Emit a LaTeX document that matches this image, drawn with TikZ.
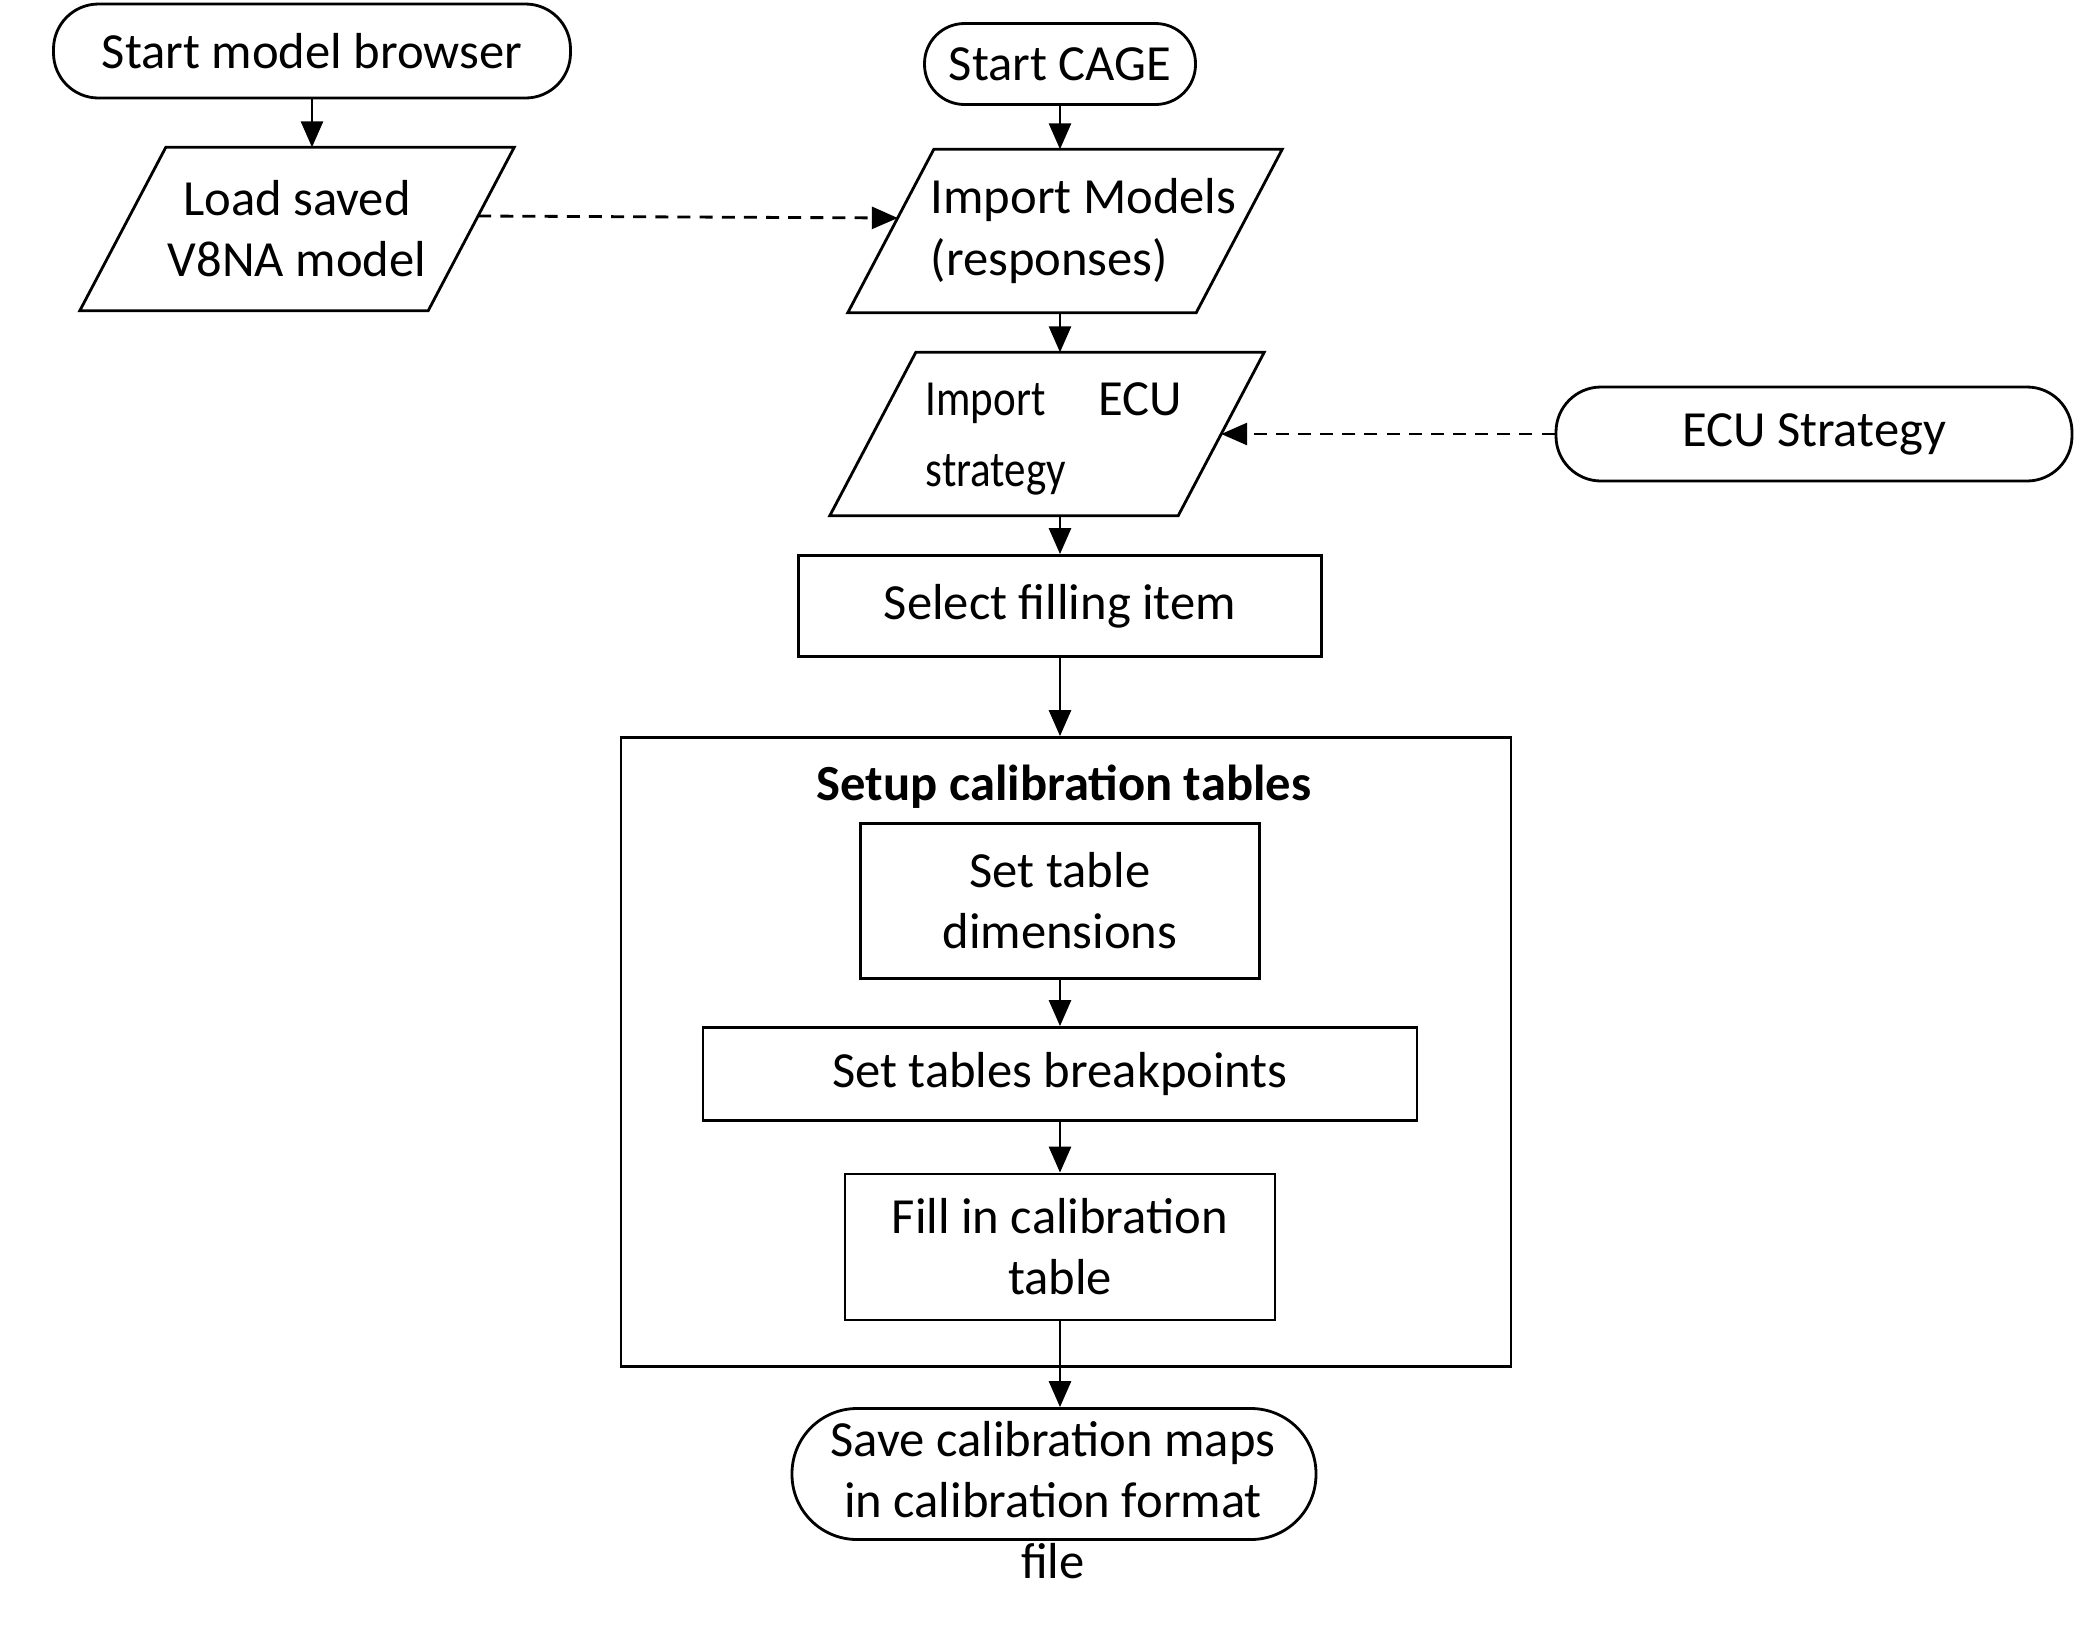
\documentclass[tikz,border=0pt]{standalone}
\usepackage{fontspec}
\setmainfont{Carlito}
\newfontfamily\narrowfont[FakeStretch=0.85]{Carlito}
\usepackage{tikz}
\usetikzlibrary{arrows.meta,positioning}

\begin{document}
\begin{tikzpicture}[
	every node/.style = {font=\fontsize{14.4pt}{17.4pt}\selectfont, inner sep=0pt},
	term/.style = {draw, line width=.8pt, rounded corners=4.5mm, align=center},
	para/.style = {minimum width=3.47cm, minimum height=1.62cm, align=center},
	proc/.style = {draw, line width=.8pt, align=center},
	arr/.style = {line width=.8pt, -{Triangle[length=2.6mm,width=2.2mm]}},
	dasharr/.style = {arr, dash pattern=on 3.7pt off 2.6pt}]
	\path[fill=white] (0,0) rectangle (20.8,-16.27);
	% left column
	\node[term, minimum width=5.17cm, minimum height=.94cm] (startmb) at (3.12,-.51) {Start model browser};
	\node[para] (load) at (2.97,-2.29) {Load saved\\V8NA model};
	% main column
	\node[term, rounded corners=4mm, minimum width=2.71cm, minimum height=.81cm] (startcage) at (10.60,-.64) {Start CAGE};
	\node[para] (import) at (10.65,-2.31) {};
	\node[align=left, anchor=west] (importtext) at (9.30,-2.31) {Import Models\\(responses)};
	\node[para] (ecu) at (10.47,-4.34) {};
	\node[text width=2.56cm, align=left, anchor=west] (ecutext) at (9.25,-4.39) {{\narrowfont Import}\hfill ECU\\[2.6pt]{\narrowfont strategy}};
	\node[term, minimum width=5.16cm, minimum height=.94cm] (ecustrat) at (18.14,-4.34) {ECU Strategy};
	\node[proc, minimum width=5.23cm, minimum height=1.01cm] (select) at (10.60,-6.06) {Select filling item};
	% parallelogram outlines
	\foreach \p in {load,import,ecu}
		\draw[line width=.8pt] ([xshift=-4.3mm]\p.south west) -- ([xshift=4.3mm]\p.north west)
			-- ([xshift=4.3mm]\p.north east) -- ([xshift=-4.3mm]\p.south east) -- cycle;
	% calibration tables
	\node[proc, minimum width=8.90cm, minimum height=6.29cm] (setup) at (10.66,-10.52) {};
	\node[font=\fontsize{14.4pt}{17.4pt}\selectfont\bfseries] (setuptitle) at (10.64,-7.87) {Setup calibration tables};
	\node[proc, minimum width=3.99cm, minimum height=1.55cm] (dims) at (10.60,-9.01) {Set table\\dimensions};
	\node[proc, minimum width=7.14cm, minimum height=.93cm] (brk) at (10.60,-10.74) {Set tables breakpoints};
	\node[proc, minimum width=4.30cm, minimum height=1.46cm] (fill) at (10.60,-12.47) {Fill in calibration\\table};
	\node[term, rounded corners=6.5mm, minimum width=5.24cm, minimum height=1.31cm] (save) at (10.54,-14.74) {};
	\node[align=center] (savetext) at (10.53,-15.00) {Save calibration maps\\in calibration format\\file};
	% connectors
	\draw[arr] (startmb) -- (startmb |- load.north);
	\draw[arr] (startcage) -- (startcage |- import.north);
	\draw[arr] (import.south -| startcage) -- (ecu.north -| startcage);
	\draw[arr] (ecu.south -| select) -- (select);
	\draw[arr] (select) -- (select |- setup.north);
	\draw[arr] (dims) -- (brk);
	\draw[arr] (brk) -- (fill);
	\draw[arr] (fill) -- (fill |- save.north);
	\draw[dasharr] ([xshift=.7mm,yshift=1.3mm]load.east) -- ([xshift=.7mm,yshift=1.3mm]import.west);
	\draw[dasharr] (ecustrat) -- (ecu);
\end{tikzpicture}
\end{document}
